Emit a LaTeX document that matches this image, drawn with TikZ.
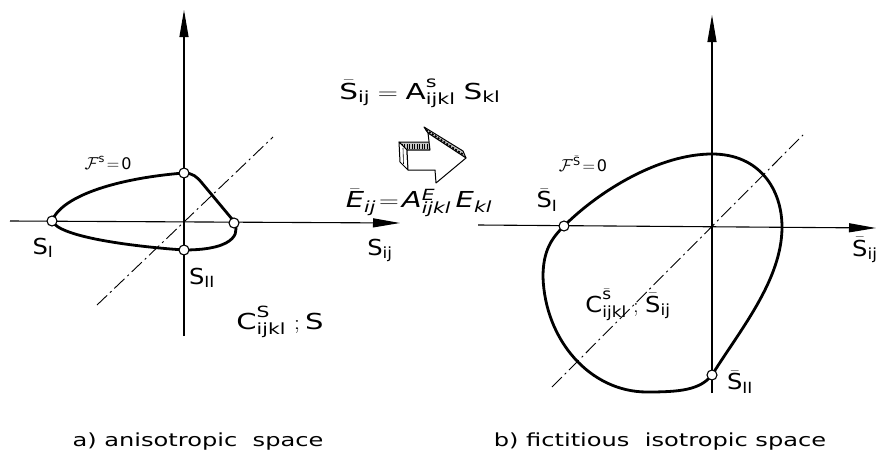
\documentclass[tikz,border=0pt]{standalone}
\usepackage{fontspec}
\setmainfont{DejaVu Sans}
\setsansfont{DejaVu Sans}
\usetikzlibrary{arrows.meta}
\begin{document}
\begin{tikzpicture}[x=1pt,y=-1pt,
  axis/.style={line width=1.1pt,-{Triangle[length=27pt,width=9pt]}},
  yieldcurve/.style={line width=2.8pt,line join=round},
  dashdot/.style={line width=0.9pt,dash pattern=on 14pt off 4pt on 2pt off 4pt},
  pnt/.style={circle,draw,fill=white,line width=1.1pt,inner sep=0pt,minimum size=10pt},
  lbl/.style={font=\fontsize{22}{26}\selectfont,inner sep=0pt,xscale=1.1},
  smalllbl/.style={font=\fontsize{16}{19}\selectfont,inner sep=0pt},
  caption/.style={font=\fontsize{18}{22}\selectfont,inner sep=0pt,xscale=1.34},
  arrowface/.style={line width=1pt,fill=white,line join=round}]
\clip (0,0) rectangle (876,461);
\fill[white] (0,0) rectangle (876,461);

% ---------- left diagram ----------
\coordinate (LvB) at (184,336);
\coordinate (LvT) at (184,10);
\coordinate (LhL) at (10,221);
\coordinate (LhR) at (400,223);
\coordinate (LdA) at (97,305);
\coordinate (LdB) at (273,137);
\draw[axis] (LvB) -- (LvT);
\draw[axis] (LhL) -- (LhR);
\draw[dashdot] (LdA) -- (LdB);
\draw[yieldcurve] (52,221) .. controls (62,195) and (120,178) .. (184,173)
  .. controls (193,173) and (197,177) .. (202,183) -- (232,219)
  .. controls (241,230) and (239,250) .. (184,250)
  .. controls (140,247) and (60,238) .. (52,221) -- cycle;
\node[pnt] (LsI) at (52,221) {};
\node[pnt] (Ltop) at (184,173) {};
\node[pnt] (Lright) at (234,223) {};
\node[pnt] (LsII) at (184,250) {};
\node[smalllbl] (LF) at (108,163) {$\mathcal{F}^{\mathsf{s}}\!=\!\mathsf{0}$};
\node[lbl] (LSI) at (43,248) {$\mathsf{S}_{\mathrm{I}}$};
\node[lbl] (LSII) at (202,278) {$\mathsf{S}_{\mathrm{II}}$};
\node[lbl] (LSij) at (380,250) {$\mathsf{S}_{\mathsf{ij}}$};
\node[lbl,xscale=1.2] (LC) at (280,322) {$\mathsf{C}^{\mathsf{S}}_{\mathsf{ijkl}}\;\mathsf{;}\,\mathsf{S}$};

% ---------- middle ----------
\node[lbl,xscale=1.22] (eq1) at (420,93) {$\bar{\mathsf{S}}_{\mathsf{ij}} = \mathsf{A}^{\mathsf{s}}_{\mathsf{ijkl}}\;\mathsf{S}_{\mathsf{kl}}$};
\node[lbl,xscale=1.2] (eq2) at (419,203) {$\bar{\mathit{E}}_{\mathit{ij}}\!=\!\mathit{A}^{\mathit{E}}_{\mathit{ijkl}}\,\mathit{E}_{\mathit{kl}}$};
% hollow 3D arrow
\draw[arrowface,fill=gray!45] (399,142) -- (432,142) -- (430,150) -- (407,150) -- cycle;
\foreach \xx in {402,404.5,...,430} \draw[line width=0.5pt] (\xx,143.5) -- (\xx,148.5);
\draw[arrowface] (399,142) -- (407,150) -- (408,170) -- (400,162) -- cycle;
\draw[line width=0.6pt] (403,148) -- (403.5,164);
\draw[arrowface,fill=gray!40] (424,127) -- (428,133) -- (466,158) -- (463,151) -- cycle;
\draw[line width=1.6pt,dash pattern=on 2pt off 1.5pt] (426,130) -- (464,155);
\draw[arrowface] (407,150) -- (430,150) -- (428,133) -- (466,158) -- (436,183) -- (435,170) -- (408,170) -- cycle;

% ---------- right diagram ----------
\coordinate (RvB) at (712,393);
\coordinate (RvT) at (712,15);
\coordinate (RhL) at (478,225);
\coordinate (RhR) at (876,228);
\coordinate (RdA) at (552,387);
\coordinate (RdB) at (803,135);
\draw[axis] (RvB) -- (RvT);
\draw[axis] (RhL) -- (RhR);
\draw[dashdot] (RdA) -- (RdB);
\draw[yieldcurve] (564,226) .. controls (600,190) and (660,154) .. (712,154)
  .. controls (760,154) and (782,190) .. (782,227)
  .. controls (782,280) and (740,330) .. (712,375)
  .. controls (700,390) and (680,392) .. (647,392)
  .. controls (590,392) and (545,340) .. (543,277)
  .. controls (543,250) and (552,238) .. (564,226) -- cycle;
\node[pnt] (RsI) at (564,226) {};
\node[pnt] (RsII) at (712,375) {};
\node[smalllbl] (RF) at (583,164) {$\mathcal{F}^{\bar{\mathsf{S}}}\!=\!\mathsf{0}$};
\node[lbl] (RSI) at (547,200) {$\bar{\mathsf{S}}_{\mathrm{I}}$};
\node[lbl] (RSII) at (740,382) {$\bar{\mathsf{S}}_{\mathrm{II}}$};
\node[lbl,anchor=west] (RSij) at (852,250) {$\bar{\mathsf{S}}_{\mathsf{ij}}$};
\node[lbl] (RC) at (628,305) {$\mathsf{C}^{\bar{\mathsf{s}}}_{\mathsf{ijkl}}\;\mathsf{;}\;\bar{\mathsf{S}}_{\mathsf{ij}}$};

% ---------- captions ----------
\node[caption] (capa) at (198,442) {a) anisotropic\ \ space};
\node[caption] (capb) at (660,442) {b) fictitious\ \ isotropic space};
\end{tikzpicture}
\end{document}
